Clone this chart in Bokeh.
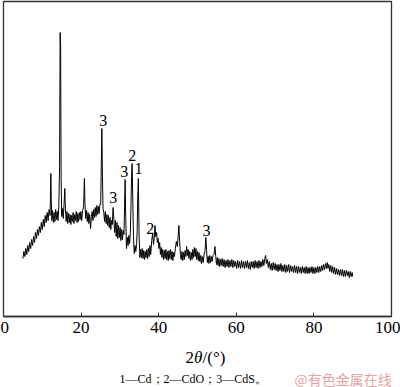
from bokeh.plotting import figure
from bokeh.models import Range1d, Label, FixedTicker
from bokeh.layouts import column
from bokeh.embed import file_html
from bokeh.resources import INLINE

two_theta = [
5.00,5.25,5.50,5.75,6.00,6.25,6.50,6.75,7.00,7.25,7.50,7.75,8.00,8.25,8.50,8.75,9.00,9.25,9.50,9.75,
10.00,10.25,10.50,10.75,11.00,11.25,11.50,11.75,12.00,12.10,12.20,12.30,12.45,12.65,12.85,13.05,13.25,13.45,13.65,13.85,
14.05,14.25,14.45,14.60,14.72,14.85,15.00,15.20,15.40,15.60,15.80,15.95,16.15,16.35,16.55,16.75,16.95,17.15,17.35,17.55,
17.75,17.95,18.15,18.35,18.55,18.75,18.95,19.15,19.35,19.55,19.75,19.95,20.15,20.40,20.65,20.85,21.00,21.20,21.40,21.60,
21.80,22.00,22.20,22.45,22.65,22.85,23.05,23.25,23.45,23.65,23.85,24.05,24.25,24.45,24.65,24.85,25.05,25.20,25.35,25.50,
25.65,25.85,26.05,26.25,26.45,26.65,26.85,27.05,27.25,27.45,27.65,27.85,28.05,28.25,28.45,28.65,28.85,29.05,29.25,29.45,
29.65,29.85,30.05,30.25,30.45,30.65,30.85,31.05,31.20,31.35,31.50,31.70,31.90,32.10,32.30,32.50,32.70,32.85,33.00,33.15,
33.30,33.50,33.70,33.90,34.10,34.30,34.45,34.60,34.75,34.95,35.15,35.35,35.55,35.75,35.95,36.15,36.35,36.55,36.75,36.95,
37.15,37.35,37.55,37.75,37.95,38.20,38.45,38.65,38.85,39.05,39.25,39.45,39.65,39.85,40.05,40.25,40.45,40.65,40.85,41.05,
41.25,41.45,41.65,41.85,42.05,42.25,42.45,42.65,42.85,43.05,43.25,43.45,43.65,43.85,44.05,44.30,44.55,44.80,45.00,45.20,
45.40,45.60,45.80,46.00,46.20,46.40,46.60,46.80,47.00,47.20,47.40,47.60,47.80,48.00,48.20,48.40,48.60,48.80,49.00,49.20,
49.40,49.60,49.80,50.00,50.20,50.40,50.60,50.80,51.00,51.20,51.45,51.70,51.95,52.15,52.35,52.55,52.75,52.95,53.15,53.35,
53.55,53.75,54.00,54.25,54.50,54.70,54.90,55.10,55.30,55.50,55.70,55.90,56.10,56.35,56.60,56.85,57.10,57.35,57.60,57.85,
58.10,58.35,58.60,58.85,59.10,59.35,59.60,59.85,60.10,60.35,60.60,60.85,61.10,61.35,61.60,61.85,62.10,62.35,62.60,62.85,
63.10,63.35,63.60,63.85,64.10,64.35,64.60,64.85,65.10,65.35,65.60,65.85,66.10,66.35,66.60,66.85,67.10,67.35,67.55,67.75,
68.00,68.25,68.50,68.75,69.00,69.25,69.50,69.75,70.00,70.25,70.50,70.75,71.00,71.25,71.50,71.75,72.00,72.25,72.50,72.75,
73.00,73.25,73.50,73.75,74.00,74.25,74.50,74.75,75.00,75.25,75.50,75.75,76.00,76.25,76.50,76.75,77.00,77.25,77.50,77.75,
78.00,78.25,78.50,78.75,79.00,79.25,79.50,79.75,80.00,80.25,80.50,80.75,81.00,81.25,81.50,81.75,82.00,82.25,82.50,82.75,
83.00,83.25,83.45,83.65,83.85,84.10,84.35,84.60,84.85,85.10,85.35,85.60,85.85,86.10,86.35,86.60,86.85,87.10,87.35,87.60,
87.85,88.10,88.35,88.60,88.85,89.10,89.35,89.60,89.85,90.00]

intensity = [
58,65,60,68,62,71,65,74,68,77,71,80,74,84,78,87,81,90,84,94,
87,97,90,101,94,104,96,107,101,120,143,118,96,106,94,104,95,107,97,105,
96,109,150,284,270,140,100,108,98,112,128,108,95,105,93,103,94,102,92,101,
95,104,93,102,96,105,94,103,95,104,97,105,96,106,110,138,112,98,106,95,
104,93,102,88,100,105,96,107,99,109,100,111,102,110,103,112,112,150,188,140,
108,104,95,105,93,102,91,101,89,99,87,96,92,109,97,84,96,80,94,78,
91,79,89,76,87,77,86,82,110,137,100,68,79,71,81,73,84,110,140,153,
120,80,63,71,65,72,85,120,138,80,59,67,59,68,58,66,57,65,59,67,
58,68,60,71,62,76,83,72,78,91,80,84,74,78,68,74,62,69,59,67,
57,66,58,67,57,65,56,66,58,67,57,65,56,64,60,68,75,70,80,91,
75,62,57,65,56,64,57,66,60,70,61,67,58,65,56,64,57,67,59,69,
60,68,57,65,56,64,55,61,53,60,54,62,66,79,66,54,60,53,61,54,
60,55,61,62,70,60,52,59,51,58,50,57,51,58,50,57,49,56,50,57,
49,56,50,57,49,56,50,55,48,56,49,55,48,56,49,55,48,55,49,56,
48,54,47,55,49,55,48,56,49,55,48,56,49,55,50,57,51,58,61,53,
57,49,55,47,53,46,54,47,53,46,52,45,52,46,53,45,51,45,52,44,
51,45,52,44,51,45,50,44,51,44,50,43,50,44,49,43,50,44,49,43,
50,43,49,43,49,44,50,43,49,43,49,44,50,44,50,45,51,46,52,47,
53,48,54,48,52,45,51,44,50,43,49,42,48,42,47,41,47,41,47,40,
46,40,46,41,45,39,45,40,44,40]

peak_labels = ["3", "3", "3", "2", "1", "2", "3"]
peak_x = [25.7, 28.3, 31.1, 33.2, 34.8, 37.8, 52.3]
peak_y = [196, 119, 145, 161, 148, 88, 86]

x_ticks = [0, 20, 40, 60, 80, 100]

SERIF = "Times"
CJK = "'Noto Sans CJK SC'"

p = figure(width=400, height=343, output_backend="svg", toolbar_location=None,
           x_range=Range1d(0, 100), y_range=Range1d(0, 315),
           y_axis_location=None,
           min_border_left=3, min_border_right=9, min_border_top=1, min_border_bottom=27)
p.xgrid.visible = False
p.ygrid.visible = False
p.outline_line_color = "#333333"
p.outline_line_width = 1.3
p.background_fill_color = "white"
p.border_fill_color = "white"

ax = p.xaxis[0]
ax.ticker = FixedTicker(ticks=x_ticks)
ax.major_tick_in = 4
ax.major_tick_out = 0
ax.minor_tick_line_color = None
ax.axis_line_color = "#333333"
ax.axis_line_width = 1.3
ax.major_tick_line_color = "#333333"
ax.major_label_text_font = SERIF
ax.major_label_text_font_size = "17px"
ax.major_label_text_color = "black"
ax.major_label_standoff = 5

p.line(two_theta, intensity, line_color="black", line_width=1)

for t, xx, yy in zip(peak_labels, peak_x, peak_y):
    p.add_layout(Label(x=xx, y=yy, text=t, text_font=SERIF, text_font_size="16px",
                       text_align="center", text_baseline="middle", text_color="black"))

# lower panel: axis title and caption
q = figure(width=400, height=44, output_backend="svg", toolbar_location=None,
           x_range=Range1d(0, 400), y_range=Range1d(0, 44),
           x_axis_location=None, y_axis_location=None,
           min_border_left=0, min_border_right=0, min_border_top=0, min_border_bottom=0)
q.xgrid.visible = False
q.ygrid.visible = False
q.outline_line_color = None
q.background_fill_color = "white"
q.border_fill_color = "white"

ty = 387 - 357
q.add_layout(Label(x=182, y=ty, x_units="screen", y_units="screen", text="2",
                   text_font=SERIF, text_font_size="17px", text_align="left",
                   text_baseline="middle", text_color="black"))
q.add_layout(Label(x=190.5, y=ty, x_units="screen", y_units="screen", text="θ",
                   text_font=SERIF, text_font_size="17px", text_font_style="italic",
                   text_align="left", text_baseline="middle", text_color="black"))
q.add_layout(Label(x=199, y=ty, x_units="screen", y_units="screen", text="/(°)",
                   text_font=SERIF, text_font_size="17px", text_align="left",
                   text_baseline="middle", text_color="black"))

cy = 387 - 378
q.add_layout(Label(x=116, y=cy, x_units="screen", y_units="screen",
                   text="1—Cd；2—CdO；3—CdS。", text_font=SERIF, text_font_size="12px",
                   text_align="left", text_baseline="middle", text_color="black"))
q.add_layout(Label(x=291, y=cy, x_units="screen", y_units="screen",
                   text="@有色金属在线", text_font=CJK, text_font_size="14px",
                   text_align="left", text_baseline="middle", text_color="#e6a3a3"))

layout = column(p, q, spacing=0)
open("out.html", "w").write(file_html(layout, INLINE))
